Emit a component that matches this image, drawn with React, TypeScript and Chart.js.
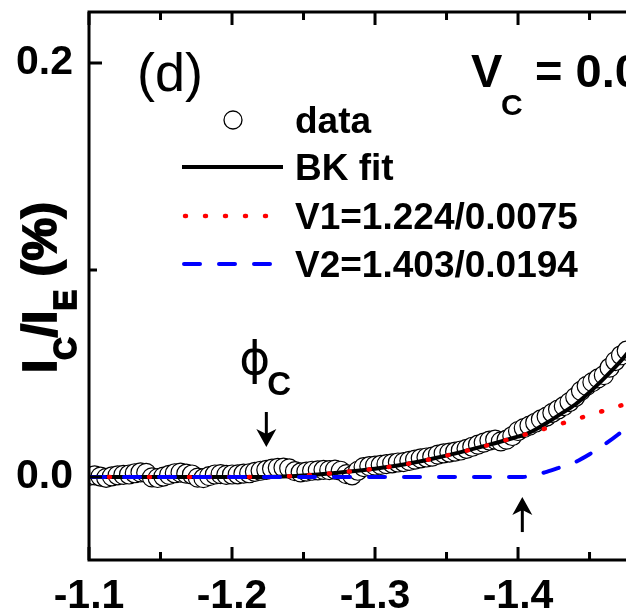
import React, { useEffect, useRef } from "react";
import { Chart, registerables } from "chart.js";
Chart.register(...registerables);

// ---- data ----
const dataX = [
  -1.100, -1.104, -1.108, -1.112, -1.116, -1.120, -1.124, -1.128, -1.132, -1.136,
  -1.140, -1.144, -1.148, -1.152, -1.156, -1.160, -1.164, -1.168, -1.172, -1.176,
  -1.180, -1.184, -1.188, -1.192, -1.196, -1.200, -1.204, -1.208, -1.212, -1.216,
  -1.220, -1.224, -1.228, -1.232, -1.236, -1.240, -1.244, -1.248, -1.252, -1.256,
  -1.260, -1.264, -1.268, -1.272, -1.276, -1.280, -1.284, -1.288, -1.292, -1.296,
  -1.300, -1.304, -1.308, -1.312, -1.316, -1.320, -1.324, -1.328, -1.332, -1.336,
  -1.340, -1.344, -1.348, -1.352, -1.356, -1.360, -1.364, -1.368, -1.372, -1.376,
  -1.380, -1.384, -1.388, -1.392, -1.396, -1.400, -1.404, -1.408, -1.412, -1.416,
  -1.420, -1.424, -1.428, -1.432, -1.436, -1.440, -1.444, -1.448, -1.452, -1.456,
  -1.460, -1.464, -1.468, -1.472, -1.476,
];
const dataY = [
  0.0005, 0.0008, 0.0002, -0.0004, 0.0003, 0.0008, 0.0010, 0.0012, 0.0018, 0.0022,
  0.0020, -0.0002, -0.0005, 0.0002, 0.0010, 0.0018, 0.0021, 0.0016, 0.0012, -0.0003,
  -0.0006, 0.0004, 0.0012, 0.0014, 0.0010, 0.0012, 0.0013, 0.0016, 0.0018, 0.0025,
  0.0030, 0.0034, 0.0040, 0.0044, 0.0045, 0.0042, 0.0028, 0.0022, 0.0026, 0.0030,
  0.0032, 0.0034, 0.0033, 0.0036, 0.0030, 0.0014, 0.0008, 0.0030, 0.0048, 0.0052,
  0.0055, 0.0058, 0.0062, 0.0066, 0.0070, 0.0072, 0.0078, 0.0084, 0.0090, 0.0094,
  0.0098, 0.0108, 0.0114, 0.0118, 0.0122, 0.0128, 0.0136, 0.0146, 0.0156, 0.0166,
  0.0176, 0.0180, 0.0172, 0.0180, 0.0198, 0.0222, 0.0236, 0.0248, 0.0262, 0.0278,
  0.0292, 0.0310, 0.0326, 0.0342, 0.0362, 0.0386, 0.0416, 0.0440, 0.0458, 0.0476,
  0.0492, 0.0528, 0.0560, 0.0588, 0.0610,
];

const fitX = [
  -1.10, -1.15, -1.20, -1.224, -1.24, -1.26, -1.28, -1.30, -1.32, -1.34, -1.36,
  -1.38, -1.40, -1.403, -1.41, -1.42, -1.43, -1.44, -1.45, -1.46, -1.47, -1.48,
];
const bkFitY = [
  0, 0, 0, 0, 0.0003, 0.0012, 0.0025, 0.004, 0.006, 0.0088, 0.012,
  0.0156, 0.0195, 0.0201, 0.0221, 0.0261, 0.0305, 0.035, 0.0409, 0.0475, 0.0546, 0.0627,
];
const v1Y = [
  0, 0, 0, 0, 0.0003, 0.0012, 0.0025, 0.004, 0.006, 0.0088, 0.012,
  0.0156, 0.0195, 0.0201, 0.0215, 0.0236, 0.0257, 0.0278, 0.0299, 0.032, 0.0341, 0.0362,
];
const v2Y = [
  0, 0, 0, 0, 0, 0, 0, 0, 0, 0, 0,
  0, 0, 0, 0.0006, 0.0025, 0.0048, 0.0072, 0.011, 0.0155, 0.0205, 0.0265,
];

const xMajorTicks = [-1.1, -1.2, -1.3, -1.4];
const xMinorTicks = [-1.15, -1.25, -1.35, -1.45];
const yMajorTicks = [0.0, 0.2];
const yMinorTicks = [0.1];
const legendLabels = ["data", "BK fit", "V1=1.224/0.0075", "V2=1.403/0.0194"];
const phiCValue = -1.224;
const v2Value = -1.403;
const panelLabel = "(d)";

const FONT = '"Liberation Sans", Arial, sans-serif';

const zip = (xs: number[], ys: number[]) => xs.map((x, i) => ({ x, y: ys[i] }));

const noPad = (s: any) => {
  s.paddingTop = 0;
  s.paddingBottom = 0;
  s.paddingLeft = 0;
  s.paddingRight = 0;
};

const decorPlugin = {
  id: "decor",
  afterDatasetsDraw(chart: any) {
    const { ctx, chartArea: a, scales } = chart;
    const x = scales.x;
    const y = scales.y;
    ctx.save();
    ctx.strokeStyle = "#000";
    ctx.lineWidth = 3;
    ctx.lineCap = "butt";
    ctx.beginPath();
    ctx.moveTo(a.right + 5, a.top);
    ctx.lineTo(a.left, a.top);
    ctx.lineTo(a.left, a.bottom);
    ctx.lineTo(a.right + 5, a.bottom);
    ctx.stroke();
    const major = 13;
    const minor = 8;
    ctx.beginPath();
    for (const v of xMajorTicks) {
      const px = x.getPixelForValue(v);
      ctx.moveTo(px, a.bottom);
      ctx.lineTo(px, a.bottom - major);
      ctx.moveTo(px, a.top);
      ctx.lineTo(px, a.top + major);
    }
    for (const v of xMinorTicks) {
      const px = x.getPixelForValue(v);
      ctx.moveTo(px, a.bottom);
      ctx.lineTo(px, a.bottom - minor);
      ctx.moveTo(px, a.top);
      ctx.lineTo(px, a.top + minor);
    }
    for (const v of yMajorTicks) {
      const py = y.getPixelForValue(v);
      ctx.moveTo(a.left, py);
      ctx.lineTo(a.left + major, py);
    }
    for (const v of yMinorTicks) {
      const py = y.getPixelForValue(v);
      ctx.moveTo(a.left, py);
      ctx.lineTo(a.left + minor, py);
    }
    ctx.stroke();
    ctx.restore();
  },
  afterDraw(chart: any) {
    const { ctx, scales } = chart;
    const x = scales.x;
    const y = scales.y;
    ctx.save();
    ctx.fillStyle = "#000";
    ctx.textBaseline = "alphabetic";
    ctx.textAlign = "left";

    // panel label
    ctx.font = `54px ${FONT}`;
    ctx.fillText(panelLabel, 137, 91);

    // V_C = 0.0
    ctx.font = `bold 47px ${FONT}`;
    ctx.fillText("V", 471, 87);
    ctx.font = `bold 30px ${FONT}`;
    ctx.fillText("C", 501, 115);
    ctx.font = `bold 47px ${FONT}`;
    ctx.fillText(" = 0.0", 522, 87);

    // legend
    const lx0 = 182;
    const lx1 = 283;
    const tx = 295;
    const rows = [120, 167, 216, 264];
    const bases = [133, 180, 229, 277];
    ctx.beginPath();
    ctx.arc(233, rows[0], 9, 0, Math.PI * 2);
    ctx.fillStyle = "#fff";
    ctx.fill();
    ctx.lineWidth = 1.3;
    ctx.strokeStyle = "#000";
    ctx.stroke();
    ctx.lineWidth = 4;
    ctx.beginPath();
    ctx.moveTo(lx0, rows[1]);
    ctx.lineTo(lx1, rows[1]);
    ctx.stroke();
    ctx.strokeStyle = "#ff0000";
    ctx.lineWidth = 4.5;
    ctx.lineCap = "round";
    ctx.setLineDash([1, 19]);
    ctx.beginPath();
    ctx.moveTo(lx0 + 3, rows[2]);
    ctx.lineTo(lx1 - 8, rows[2]);
    ctx.stroke();
    ctx.strokeStyle = "#0000ff";
    ctx.lineWidth = 4;
    ctx.setLineDash([16, 19]);
    ctx.beginPath();
    ctx.moveTo(lx0 + 2, rows[3]);
    ctx.lineTo(lx1 - 10, rows[3]);
    ctx.stroke();
    ctx.setLineDash([]);
    ctx.lineCap = "butt";
    ctx.fillStyle = "#000";
    ctx.font = `bold 37px ${FONT}`;
    legendLabels.forEach((t, i) => ctx.fillText(t, tx, bases[i]));

    // phi_C label and arrow
    const ax = x.getPixelForValue(phiCValue);
    ctx.font = `47px "DejaVu Sans", ${FONT}`;
    ctx.fillText("\u03d5", ax - 27, 374);
    ctx.font = `bold 33px ${FONT}`;
    ctx.fillText("C", ax + 1, 395);
    const drawArrow = (px: number, yFrom: number, yTip: number) => {
      const dir = yTip > yFrom ? 1 : -1;
      ctx.strokeStyle = "#000";
      ctx.fillStyle = "#000";
      ctx.lineWidth = 3;
      ctx.beginPath();
      ctx.moveTo(px, yFrom);
      ctx.lineTo(px, yTip - dir * 10);
      ctx.stroke();
      ctx.beginPath();
      ctx.moveTo(px, yTip);
      ctx.lineTo(px - 10, yTip - dir * 18);
      ctx.lineTo(px, yTip - dir * 13);
      ctx.lineTo(px + 10, yTip - dir * 18);
      ctx.closePath();
      ctx.fill();
    };
    drawArrow(ax, y.getPixelForValue(0.0314), y.getPixelForValue(0.0145));
    const bx = x.getPixelForValue(v2Value);
    drawArrow(bx, y.getPixelForValue(-0.0266), y.getPixelForValue(-0.0097));

    // y axis title: I_C/I_E (%)
    ctx.save();
    ctx.translate(56, 373);
    ctx.rotate(-Math.PI / 2);
    ctx.fillStyle = "#000";
    ctx.strokeStyle = "#000";
    ctx.lineWidth = 1.8;
    let cx = 0;
    const piece = (t: string, size: number, dy: number) => {
      ctx.font = `bold ${size}px ${FONT}`;
      ctx.fillText(t, cx, dy);
      ctx.strokeText(t, cx, dy);
      cx += ctx.measureText(t).width;
    };
    piece("I", 48, 0);
    piece("C", 31, 20);
    piece("/I", 48, 0);
    piece("E", 31, 20);
    piece(" (%)", 48, 0);
    ctx.restore();

    ctx.restore();
  },
};

export default function App() {
  const ref = useRef<HTMLCanvasElement | null>(null);
  useEffect(() => {
    document.body.style.margin = "0";
    const canvas = ref.current;
    if (!canvas) return;
    const chart = new Chart(canvas, {
      type: "line",
      data: {
        datasets: [
          {
            label: "data",
            data: zip(dataX, dataY),
            showLine: false,
            pointRadius: 9.5,
            pointBorderWidth: 1.2,
            pointBorderColor: "#000",
            pointBackgroundColor: "#fff",
            order: 4,
          },
          {
            label: "BK fit",
            data: zip(fitX, bkFitY),
            borderColor: "#000",
            borderWidth: 4,
            pointRadius: 0,
            cubicInterpolationMode: "monotone",
            order: 3,
          },
          {
            label: "V1",
            data: zip(fitX, v1Y),
            borderColor: "#ff0000",
            borderWidth: 4.5,
            borderDash: [1, 19],
            borderCapStyle: "round",
            pointRadius: 0,
            cubicInterpolationMode: "monotone",
            order: 2,
          },
          {
            label: "V2",
            data: zip(fitX, v2Y),
            borderColor: "#0000ff",
            borderWidth: 4,
            borderDash: [16, 19],
            borderCapStyle: "round",
            pointRadius: 0,
            cubicInterpolationMode: "monotone",
            order: 1,
          },
        ],
      },
      options: {
        animation: false,
        responsive: false,
        layout: { autoPadding: false, padding: { top: 12, left: 0, right: 0, bottom: 0 } },
        plugins: { legend: { display: false }, tooltip: { enabled: false } },
        scales: {
          x: {
            type: "linear",
            reverse: true,
            min: -1.4755,
            max: -1.1,
            grid: { display: false, drawTicks: false, tickLength: 0 },
            border: { display: false },
            afterBuildTicks: (s: any) => {
              s.ticks = xMajorTicks.map((v) => ({ value: v }));
            },
            afterFit: (s: any) => {
              s.height = 53;
              noPad(s);
            },
            ticks: {
              padding: 12,
              color: "#000",
              font: { family: FONT, size: 41, weight: "bold" },
              maxRotation: 0,
              autoSkip: false,
              callback: (v: any) => Number(v).toFixed(1),
            },
          },
          y: {
            type: "linear",
            min: -0.0401,
            max: 0.2246,
            grid: { display: false, drawTicks: false, tickLength: 0 },
            border: { display: false },
            afterBuildTicks: (s: any) => {
              s.ticks = yMajorTicks.map((v) => ({ value: v }));
            },
            afterFit: (s: any) => {
              s.width = 89;
              noPad(s);
            },
            ticks: {
              padding: 16,
              color: "#000",
              font: { family: FONT, size: 41, weight: "bold" },
              autoSkip: false,
              callback: (v: any) => Number(v).toFixed(1),
            },
          },
        },
      },
      plugins: [decorPlugin],
    } as any);
    return () => chart.destroy();
  }, []);
  return (
    <div style={{ width: 626, height: 613, overflow: "hidden" }}>
      <canvas ref={ref} width={626} height={613} style={{ display: "block" }} />
    </div>
  );
}
